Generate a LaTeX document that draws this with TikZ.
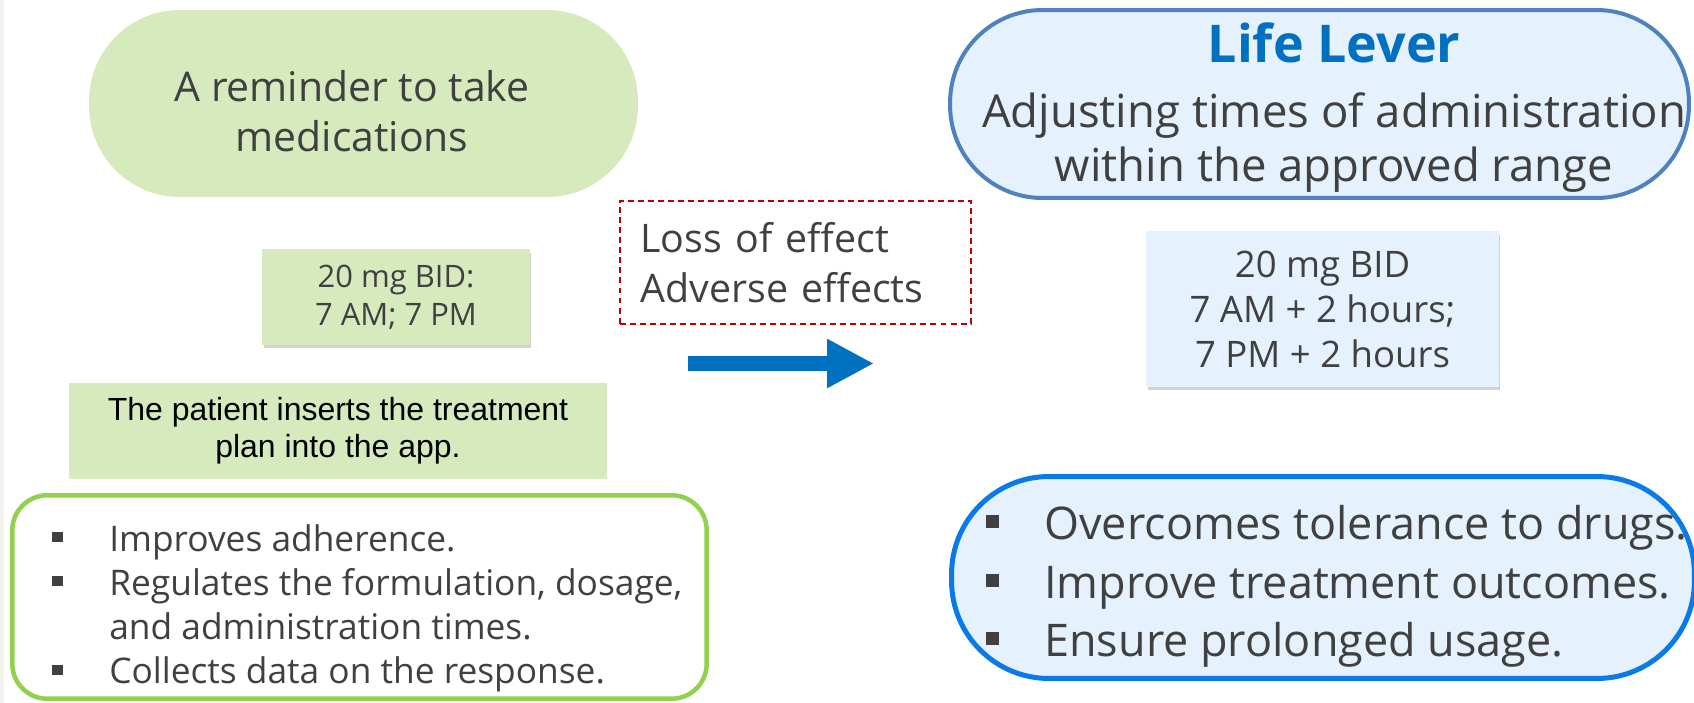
\documentclass[tikz,border=0pt]{standalone}
\usepackage{fontspec}
\setmainfont{Open Sans}
\newfontfamily\arialfont{Liberation Sans}
\usetikzlibrary{arrows.meta,positioning,shadows}
\definecolor{leafGreen}{RGB}{214,234,190}
\definecolor{edgeGreen}{RGB}{146,208,80}
\definecolor{skyFill}{RGB}{229,241,252}
\definecolor{leverEdge}{RGB}{79,129,189}
\definecolor{goalEdge}{RGB}{10,122,232}
\definecolor{leverBlue}{RGB}{0,112,192}
\definecolor{warnRed}{RGB}{192,0,0}
\definecolor{inkGray}{RGB}{64,64,64}
\definecolor{stripGray}{RGB}{242,242,236}
\newcommand\fsz[2]{\fontsize{#1}{#2}\selectfont}
\newcommand\sqb[1]{\makebox[#1][l]{\raisebox{0.26em}{\rule{0.29em}{0.29em}}}}
\tikzset{
  pill/.style={align=center, text=inkGray, inner sep=0pt},
  dosebox/.style={align=center, text=inkGray, inner sep=0pt, drop shadow={shadow xshift=0.03cm, shadow yshift=-0.07cm, opacity=0.35}},
  listbox/.style={fill=white, inner sep=0pt},
  listtext/.style={align=left, text=inkGray, inner sep=0pt, anchor=west}
}

\begin{document}
\begin{tikzpicture}[x=0.02cm, y=-0.02cm]

    \useasboundingbox (0,0) rectangle (1694,703);
    \clip (0,0) rectangle (1694,703);
    \fill[stripGray] (0,0) rectangle (3.5,703);

    % Nodes
    \node (remind) [pill, fill=leafGreen, minimum width=10.98cm, minimum height=3.74cm, rounded corners=1.82cm] at (363.5,103.5) {};
    \node (remindTxt) [pill, font=\fsz{23.3pt}{28.5pt}] at (352,111.5) {A reminder to take\\medications};
    \node (doseA) [dosebox, fill=leafGreen, minimum width=5.36cm, minimum height=1.92cm, font=\fsz{17.6pt}{21.6pt}] at (396,297) {20 mg BID:\\7 AM; 7 PM};
    \node (insert) [pill, fill=leafGreen, text=black, minimum width=10.76cm, minimum height=1.92cm, font=\arialfont\fsz{18.2pt}{21pt}] at (338,431) {The patient inserts the treatment\\plan into the app.};
    \node (gainsA) [listbox, draw=edgeGreen, line width=0.09cm, minimum width=13.89cm, minimum height=4.07cm, rounded corners=0.7cm] at (359.5,597) {};
    \node (gainsAtxt) [listtext, font=\fsz{20.1pt}{25.2pt}] at (52,608.4) {\sqb{1.14cm}Improves adherence.\\\sqb{1.14cm}Regulates the formulation, dosage,\\\hspace*{1.14cm}and administration times.\\\sqb{1.14cm}Collects data on the response.};

    \node (loss) [draw=warnRed, line width=1.2pt, dash pattern=on 3.4pt off 2.3pt, align=left, text=inkGray, inner sep=0pt, text width=6.2cm, minimum width=7.02cm, minimum height=2.46cm, font=\fsz{22.4pt}{28.5pt}] at (795.5,262.5) {Loss of effect\\Adverse effects};

    \node (lever) [pill, fill=skyFill, draw=leverEdge, line width=0.08cm, minimum width=14.78cm, minimum height=3.76cm, rounded corners=1.85cm] at (1319.5,104) {};
    \node (leverTxt) [pill, font=\fsz{25.9pt}{30.7pt}] at (1334,108) {{\fsz{29.6pt}{35pt}\bfseries\color{leverBlue}Life Lever}\\[6.3pt]Adjusting times of administration\\within the approved range};
    \node (doseB) [dosebox, fill=skyFill, minimum width=7.06cm, minimum height=3.12cm, font=\fsz{20.8pt}{25.6pt}] at (1322.5,309) {20 mg BID\\7 AM + 2 hours;\\7 PM + 2 hours};
    \node (gainsB) [listbox, fill=skyFill, draw=goalEdge, line width=0.1cm, minimum width=14.86cm, minimum height=4.04cm, rounded corners=1.95cm] at (1323,577.5) {};
    \node (gainsBtxt) [listtext, font=\fsz{25.6pt}{33.3pt}] at (986,586.8) {\sqb{1.16cm}Overcomes tolerance to drugs.\\\sqb{1.16cm}Improve treatment outcomes.\\\sqb{1.16cm}Ensure prolonged usage.};

    % Connectors
    \coordinate (tail) at (688,363.5);
    \coordinate (head) at (874,363.5);
    \begin{scope}[->]

        \draw [leverBlue, line width=0.3cm, -{Triangle[length=0.94cm, width=0.92cm]}] (tail) -- (head);

    \end{scope}

\end{tikzpicture}
\end{document}
